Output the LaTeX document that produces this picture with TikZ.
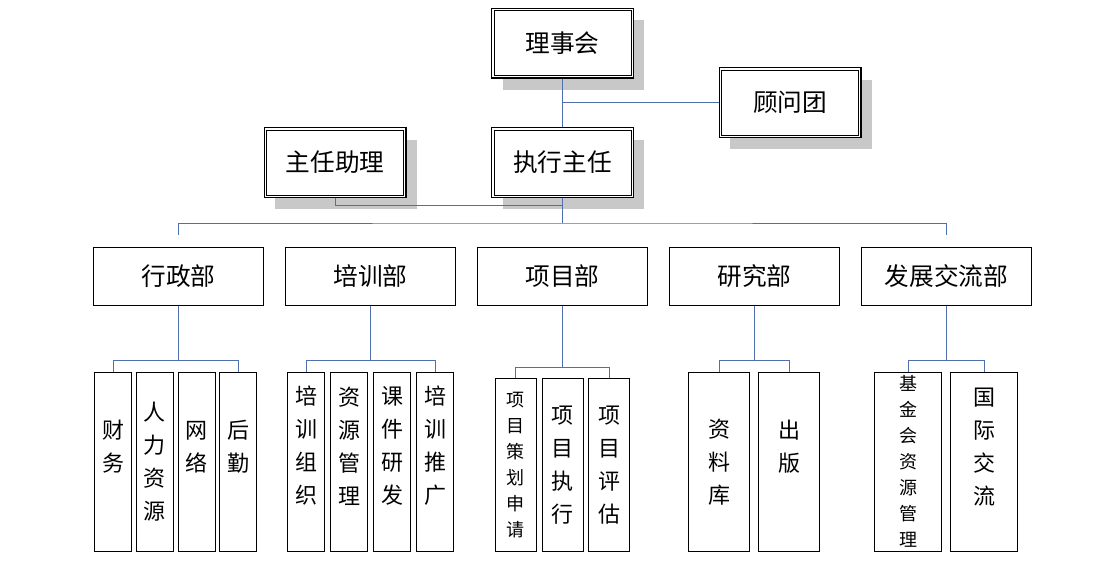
\documentclass[tikz,border=0pt]{standalone}
\usepackage{fontspec}
\setmainfont{Noto Sans CJK SC}
\usetikzlibrary{shadows}
\definecolor{linkblue}{HTML}{4F6FAF}
\definecolor{shadowgray}{HTML}{C8C8C8}

\begin{document}
\begin{tikzpicture}
	[x=0.75pt, y=-0.75pt,
	link/.style={draw=linkblue, line width=0.75pt},
	head/.style={draw, fill=white, line width=0.9pt, minimum width=106.35pt, minimum height=52.35pt, inner sep=0pt, font=\fontsize{18.5}{20}\selectfont, drop shadow={shadow xshift=8.25pt, shadow yshift=-9pt, fill=shadowgray, opacity=1}},
	headin/.style={draw, line width=0.5pt},
	dept/.style={draw, line width=0.75pt, minimum width=127.5pt, minimum height=43.5pt, font=\fontsize{18.5}{20}\selectfont},
	leaf/.style={draw, line width=0.75pt, minimum height=134.25pt, inner sep=0pt},
	ltxt/.style={align=center, inner sep=0pt, font=\fontsize{16.5}{24.75}\selectfont},
	stxt/.style={align=center, inner sep=0pt, font=\fontsize{13.5}{19.5}\selectfont}]
	\useasboundingbox (0,0) rectangle (1112,578);
	% top of the chart
	\node[head] (lsh) at (562.5,43) {理事会};
	\node[head] (gwt) at (790,102.5) {顾问团};
	\node[head] (zxzr) at (562.5,162.5) {执行主任};
	\node[head] (zrzl) at (335,162.5) {主任助理};
	\foreach \nm in {lsh, gwt, zxzr, zrzl}
		\draw[headin] ([shift={(2.2pt,-2.2pt)}]\nm.north west) rectangle ([shift={(-2.2pt,2.2pt)}]\nm.south east);
	% departments
	\foreach \nm/\x/\t in {xz/178.5/行政部, px/370.5/培训部, xm/562.5/项目部, yj/754.5/研究部, fz/946.5/发展交流部}
		\node[dept] (\nm) at (\x,276.5) {\t};
	% sections
	\foreach \nm/\x/\w/\ty/\s/\t in {xz1/113/27.75/447/ltxt/财\\务, xz2/154.5/27.75/462/ltxt/人\\力\\资\\源, xz3/196.5/27.75/447/ltxt/网\\络, xz4/238/27.75/447/ltxt/后\\勤,
		px1/306/27.75/446/ltxt/培\\训\\组\\织, px2/349/27.75/446/ltxt/资\\源\\管\\理, px3/392/27.75/446/ltxt/课\\件\\研\\发, px4/435/27.75/446/ltxt/培\\训\\推\\广,
		yj1/719/45.75/462/ltxt/资\\料\\库, yj2/789/45.75/447/ltxt/出\\版,
		fz1/908/50.25/461/stxt/基\\金\\会\\资\\源\\管\\理, fz2/984/50.25/447/ltxt/国\\际\\交\\流}
	{
		\node[leaf, minimum width=\w pt] (\nm) at (\x,462) {};
		\node[\s] (\nm t) at (\x,\ty) {\t};
	}
	\foreach \nm/\x/\s/\t in {xm1/515.5/stxt/项\\目\\策\\划\\申\\请, xm2/562.5/ltxt/项\\目\\执\\行, xm3/609/ltxt/项\\目\\评\\估}
	{
		\node[leaf, minimum width=30.75pt, minimum height=129.75pt] (\nm) at (\x,465) {};
		\node[\s] (\nm t) at (\x,465) {\t};
	}
	% connectors
	\coordinate (jzl) at (562.5,205);
	\coordinate (bus) at (562.5,223);
	\draw[link] (lsh.south) -- (zxzr.north);
	\draw[link] (gwt.west) -- (gwt.west -| lsh.south);
	\draw[link] (zrzl.south) |- (jzl);
	\draw[link] (zxzr.south) -- (bus);
	\draw[link] ([yshift=9pt]xz.north) |- (bus) -| ([yshift=9pt]fz.north);
	\foreach \d/\a/\b/\h in {xz/xz1/xz4/12, px/px1/px4/12, xm/xm1/xm3/11, yj/yj1/yj2/12, fz/fz1/fz2/12}
	{
		\draw[link] (\a.north) -- ++(0,-\h) coordinate (\d b) -| (\b.north);
		\draw[link] (\d.south) -- (\d.south |- \d b);
	}
\end{tikzpicture}
\end{document}
